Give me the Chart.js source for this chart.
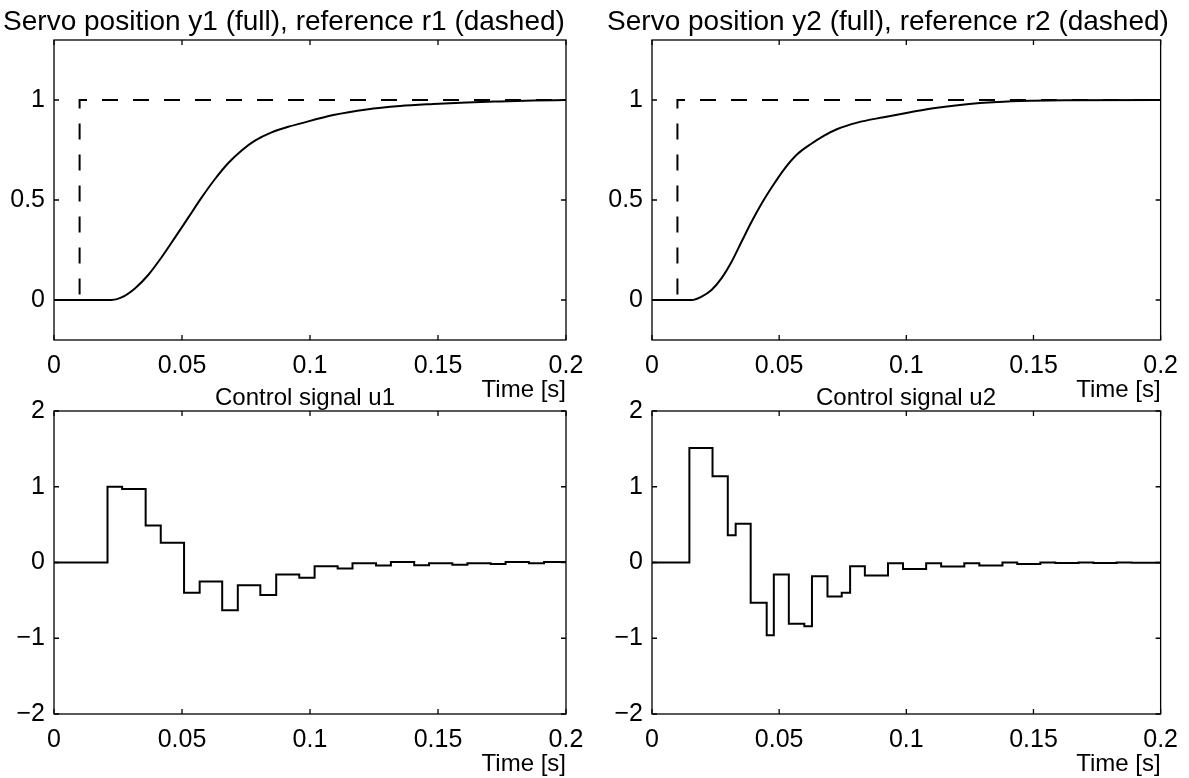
<!DOCTYPE html>
<html>
<head>
<meta charset="utf-8">
<title>Servo positions and control signals</title>
<script src="https://cdn.jsdelivr.net/npm/chart.js@4.4.1/dist/chart.umd.min.js"></script>
<style>
  html, body { margin: 0; padding: 0; background: #fff; }
  #wrap { position: relative; width: 1189px; height: 778px; }
  #wrap canvas { position: absolute; left: 0; top: 0; }
</style>
</head>
<body>
<div id="wrap">
  <canvas id="servo1" width="1189" height="778"></canvas>
  <canvas id="servo2" width="1189" height="778"></canvas>
  <canvas id="control1" width="1189" height="778"></canvas>
  <canvas id="control2" width="1189" height="778"></canvas>
</div>
<script>
// ====== Data ======
const xTicks = [0, 0.05, 0.1, 0.15, 0.2];
const xTickLabels = ["0", "0.05", "0.1", "0.15", "0.2"];

const servoTicks = [0, 0.5, 1];
const servoTickLabels = ["0", "0.5", "1"];
const controlTicks = [-2, -1, 0, 1, 2];
const controlTickLabels = ["\u22122", "\u22121", "0", "1", "2"];

// reference step (dashed)
const refTime = [0, 0.01, 0.01, 0.2];
const refValue = [0, 0, 1, 1];

// servo position y1
const y1Time = [0, 0.0225, 0.0264, 0.0316, 0.0368, 0.0421, 0.0473, 0.0525, 0.0577, 0.0629, 0.0681,
  0.0733, 0.0785, 0.0850, 0.0915, 0.0961, 0.1091, 0.1221, 0.1352, 0.1482, 0.1612, 0.1742, 0.1872, 0.2];
const y1 = [0, 0, 0.013, 0.058, 0.125, 0.215, 0.313, 0.413, 0.513, 0.605, 0.685,
  0.748, 0.797, 0.838, 0.866, 0.882, 0.925, 0.953, 0.97, 0.98, 0.988, 0.993, 0.997, 1.0];

// servo position y2
const y2Time = [0, 0.0156, 0.0195, 0.0234, 0.0273, 0.0313, 0.0352, 0.0391, 0.043, 0.0469, 0.0521,
  0.0573, 0.0625, 0.0677, 0.0729, 0.0807, 0.0911, 0.0969, 0.1099, 0.1229, 0.1359, 0.149, 0.162, 0.2];
const y2 = [0, 0, 0.017, 0.05, 0.108, 0.191, 0.291, 0.39, 0.48, 0.56, 0.656,
  0.731, 0.78, 0.822, 0.855, 0.887, 0.914, 0.928, 0.958, 0.978, 0.99, 0.996, 0.999, 1.0];

// control signal u1 (stairs: value holds until next time)
const u1Time = [0, 0.0209, 0.0266, 0.0358, 0.0417, 0.0508, 0.0569, 0.0657, 0.0718, 0.0806, 0.0868,
  0.0958, 0.1018, 0.1108, 0.1166, 0.1258, 0.1316, 0.1407, 0.1465, 0.1556, 0.1615, 0.1706, 0.1764,
  0.1855, 0.1914, 0.2];
const u1 = [0, 1.0, 0.97, 0.49, 0.26, -0.40, -0.25, -0.63, -0.30, -0.43, -0.16,
  -0.20, -0.05, -0.08, -0.01, -0.04, 0.005, -0.035, -0.01, -0.03, -0.01, -0.02, 0.005,
  -0.01, 0.005, 0.005];

// control signal u2
const u2Time = [0, 0.0147, 0.0238, 0.0298, 0.0329, 0.0388, 0.0451, 0.0479, 0.0538, 0.0599, 0.0629,
  0.0690, 0.0746, 0.0779, 0.0837, 0.0928, 0.0987, 0.1078, 0.1137, 0.1228, 0.1287, 0.1378, 0.1436,
  0.1527, 0.1586, 0.1677, 0.1736, 0.1827, 0.1886, 0.2];
const u2 = [0, 1.51, 1.14, 0.36, 0.51, -0.53, -0.96, -0.16, -0.81, -0.84, -0.18,
  -0.45, -0.40, -0.05, -0.17, -0.01, -0.085, -0.01, -0.053, -0.01, -0.04, 0, -0.02,
  0, -0.005, 0, -0.005, 0, -0.003, -0.003];

// ====== Shared style ======
const FONT = "'Liberation Sans', Arial, Helvetica, sans-serif";
const TICK_SIZE = 25;
const LABEL_SIZE = 24;
const Y_AXIS_WIDTH = 50;
const X_AXIS_HEIGHT = 65;
const PAGE_W = 1189;
const PAGE_H = 778;

function toPoints(xs, ys) {
  return xs.map((x, i) => ({ x: x, y: ys[i] }));
}

// ====== Box + inward ticks + title (matlab-like axes) ======
function axesPlugin(title, titleSize, titleX, titleY) {
  return {
    id: "matlabAxes",
    afterDraw(chart) {
      const ctx = chart.ctx;
      const a = chart.chartArea;
      const xs = chart.scales.x;
      const ys = chart.scales.y;
      const tl = 5;

      ctx.save();
      ctx.strokeStyle = "#000";
      ctx.lineWidth = 1.3;
      ctx.strokeRect(a.left, a.top, a.right - a.left, a.bottom - a.top);

      ctx.beginPath();
      xs.ticks.forEach(t => {
        const px = xs.getPixelForValue(t.value);
        ctx.moveTo(px, a.bottom); ctx.lineTo(px, a.bottom - tl);
        ctx.moveTo(px, a.top); ctx.lineTo(px, a.top + tl);
      });
      ys.ticks.forEach(t => {
        const py = ys.getPixelForValue(t.value);
        ctx.moveTo(a.left, py); ctx.lineTo(a.left + tl, py);
        ctx.moveTo(a.right, py); ctx.lineTo(a.right - tl, py);
      });
      ctx.stroke();

      ctx.fillStyle = "#000";
      ctx.font = titleSize + "px " + FONT;
      ctx.textAlign = "center";
      ctx.textBaseline = "alphabetic";
      ctx.fillText(title, titleX, titleY);
      ctx.restore();
    }
  };
}

// ====== Build one panel ======
function makePanel(id, area, yMin, yMax, yTicks, yLabels, datasets, title, titleSize, titleX, titleY) {
  const canvas = document.getElementById(id);
  return new Chart(canvas.getContext("2d"), {
    type: "line",
    data: { datasets: datasets },
    options: {
      responsive: false,
      animation: false,
      devicePixelRatio: 1,
      layout: {
        padding: {
          left: area.left - Y_AXIS_WIDTH,
          top: area.top,
          right: PAGE_W - area.right,
          bottom: PAGE_H - area.bottom - X_AXIS_HEIGHT
        }
      },
      plugins: {
        legend: { display: false },
        tooltip: { enabled: false },
        title: { display: false }
      },
      elements: { point: { radius: 0 } },
      scales: {
        x: {
          type: "linear",
          min: 0,
          max: 0.2,
          afterBuildTicks: scale => { scale.ticks = xTicks.map(v => ({ value: v })); },
          afterFit: scale => { scale.height = X_AXIS_HEIGHT; },
          grid: { display: false, drawTicks: false },
          border: { display: false },
          ticks: {
            color: "#000",
            font: { family: FONT, size: TICK_SIZE },
            padding: 11,
            maxRotation: 0,
            callback: value => xTickLabels[xTicks.indexOf(value)] ?? ""
          },
          title: {
            display: true,
            text: "Time [s]",
            align: "end",
            color: "#000",
            font: { family: FONT, size: LABEL_SIZE },
            padding: { top: 0, bottom: 0 }
          }
        },
        y: {
          type: "linear",
          min: yMin,
          max: yMax,
          afterBuildTicks: scale => { scale.ticks = yTicks.map(v => ({ value: v })); },
          afterFit: scale => { scale.width = Y_AXIS_WIDTH; },
          grid: { display: false, drawTicks: false },
          border: { display: false },
          ticks: {
            color: "#000",
            font: { family: FONT, size: TICK_SIZE },
            padding: 9,
            callback: value => yLabels[yTicks.indexOf(value)] ?? ""
          }
        }
      }
    },
    plugins: [axesPlugin(title, titleSize, titleX, titleY)]
  });
}

function servoDatasets(t, y) {
  return [
    {
      label: "reference",
      data: toPoints(refTime, refValue),
      borderColor: "#000",
      borderWidth: 2,
      borderDash: [16, 15],
      tension: 0
    },
    {
      label: "position",
      data: toPoints(t, y),
      borderColor: "#000",
      borderWidth: 2,
      cubicInterpolationMode: "monotone"
    }
  ];
}

function controlDatasets(t, u) {
  return [{
    label: "control",
    data: toPoints(t, u),
    borderColor: "#000",
    borderWidth: 2,
    stepped: true
  }];
}

// ====== Render all four panels ======
makePanel("servo1", { left: 54, top: 40, right: 566, bottom: 340 }, -0.2, 1.3,
  servoTicks, servoTickLabels, servoDatasets(y1Time, y1),
  "Servo position y1 (full), reference r1 (dashed)", 28, 284, 30);

makePanel("servo2", { left: 652, top: 40, right: 1164, bottom: 340 }, -0.2, 1.3,
  servoTicks, servoTickLabels, servoDatasets(y2Time, y2),
  "Servo position y2 (full), reference r2 (dashed)", 28, 888, 30);

makePanel("control1", { left: 54, top: 411, right: 566, bottom: 714 }, -2, 2,
  controlTicks, controlTickLabels, controlDatasets(u1Time, u1),
  "Control signal u1", 24, 305, 405);

makePanel("control2", { left: 652, top: 411, right: 1164, bottom: 714 }, -2, 2,
  controlTicks, controlTickLabels, controlDatasets(u2Time, u2),
  "Control signal u2", 24, 906, 405);
</script>
</body>
</html>
